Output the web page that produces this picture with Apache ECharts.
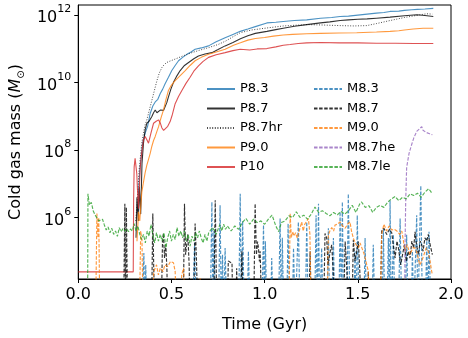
<!DOCTYPE html>
<html>
<head>
<meta charset="utf-8">
<script src="https://cdn.jsdelivr.net/npm/echarts@6/dist/echarts.min.js"></script>
<style>
  html, body { margin: 0; padding: 0; background: #fff; }
  #main { width: 468px; height: 338px; }
</style>
</head>
<body>
<div id="main"></div>
<script>
// values are [time (Gyr), log10 cold gas mass]; 3 = no gas (below the axis)
var p83 = [[0.318,6.2],[0.33,7.4],[0.345,8.2],[0.359,8.5],[0.372,8.7],[0.386,9.08],[0.4,9.3],[0.413,9.42],[0.427,9.5],[0.44,9.67],[0.453,9.8],[0.466,9.96],[0.484,10.15],[0.502,10.35],[0.52,10.5],[0.538,10.64],[0.56,10.74],[0.583,10.83],[0.605,10.9],[0.627,10.98],[0.66,11.02],[0.699,11.08],[0.74,11.2],[0.788,11.32],[0.83,11.42],[0.869,11.51],[0.91,11.58],[0.95,11.65],[1.012,11.76],[1.06,11.78],[1.1,11.8],[1.16,11.83],[1.226,11.85],[1.3,11.9],[1.36,11.92],[1.405,11.95],[1.45,11.96],[1.5,11.99],[1.55,12.02],[1.6,12.05],[1.64,12.07],[1.673,12.1],[1.72,12.11],[1.75,12.13],[1.79,12.15],[1.82,12.16],[1.86,12.17],[1.905,12.19]];

var p87 = [[0.31,5.4],[0.315,6.6],[0.322,5.9],[0.328,6.9],[0.335,6.1],[0.342,7.6],[0.35,8.2],[0.359,8.6],[0.368,8.79],[0.38,8.85],[0.395,8.99],[0.404,9.1],[0.413,9.18],[0.422,9.1],[0.431,9.05],[0.44,9.18],[0.449,9.23],[0.458,9.17],[0.466,9.22],[0.475,9.4],[0.484,9.57],[0.497,9.8],[0.511,10.0],[0.53,10.2],[0.547,10.35],[0.57,10.5],[0.592,10.59],[0.62,10.7],[0.645,10.78],[0.68,10.84],[0.717,10.88],[0.75,10.97],[0.788,11.08],[0.83,11.18],[0.87,11.29],[0.91,11.38],[0.95,11.45],[1.012,11.51],[1.06,11.56],[1.1,11.6],[1.16,11.66],[1.226,11.71],[1.3,11.76],[1.35,11.79],[1.405,11.83],[1.45,11.85],[1.5,11.87],[1.55,11.88],[1.6,11.9],[1.673,11.93],[1.75,11.97],[1.816,12.0],[1.86,11.98],[1.905,11.95]];

var p87hr = [[0.308,5.9],[0.315,6.36],[0.325,7.3],[0.332,7.72],[0.341,8.2],[0.35,8.5],[0.359,8.75],[0.368,8.89],[0.38,9.15],[0.395,9.47],[0.408,9.75],[0.422,10.05],[0.435,10.28],[0.449,10.44],[0.462,10.53],[0.475,10.59],[0.497,10.64],[0.52,10.69],[0.56,10.78],[0.61,10.88],[0.65,10.95],[0.7,11.03],[0.75,11.12],[0.79,11.22],[0.83,11.35],[0.869,11.47],[0.93,11.55],[1.012,11.61],[1.1,11.67],[1.226,11.71],[1.3,11.7],[1.405,11.68],[1.48,11.67],[1.548,11.68],[1.6,11.74],[1.673,11.83],[1.75,11.92],[1.834,12.0],[1.87,12.03],[1.9,12.02]];

var p90 = [[0.315,5.3],[0.32,5.8],[0.323,6.17],[0.33,5.9],[0.335,6.3],[0.341,6.75],[0.35,7.05],[0.359,7.33],[0.368,7.55],[0.377,7.72],[0.386,7.9],[0.395,8.11],[0.404,8.28],[0.413,8.4],[0.422,8.55],[0.431,8.69],[0.444,8.95],[0.457,9.18],[0.47,9.48],[0.484,9.76],[0.5,9.92],[0.52,10.05],[0.547,10.2],[0.574,10.35],[0.6,10.5],[0.627,10.64],[0.66,10.74],[0.699,10.83],[0.74,10.9],[0.788,10.98],[0.833,11.1],[0.87,11.17],[0.91,11.25],[0.95,11.3],[1.0,11.33],[1.047,11.37],[1.1,11.4],[1.15,11.42],[1.226,11.44],[1.3,11.45],[1.4,11.46],[1.494,11.47],[1.6,11.49],[1.673,11.51],[1.72,11.53],[1.75,11.55],[1.797,11.58],[1.85,11.6],[1.905,11.6]];

var p10 = [[0.0,4.39],[0.295,4.39],[0.297,6.5],[0.3,7.5],[0.305,7.75],[0.31,7.7],[0.314,7.3],[0.318,6.8],[0.323,6.26],[0.328,6.9],[0.333,7.5],[0.34,7.9],[0.35,8.3],[0.359,8.4],[0.368,8.3],[0.377,8.2],[0.39,8.5],[0.404,8.79],[0.418,8.85],[0.431,8.89],[0.44,8.8],[0.449,8.65],[0.458,8.58],[0.466,8.6],[0.48,8.7],[0.493,8.84],[0.505,9.05],[0.52,9.37],[0.538,9.58],[0.556,9.76],[0.578,9.97],[0.6,10.15],[0.62,10.33],[0.645,10.49],[0.67,10.62],[0.699,10.74],[0.74,10.82],[0.788,10.88],[0.83,10.94],[0.869,10.98],[0.92,10.96],[0.96,10.99],[1.012,11.0],[1.06,11.05],[1.1,11.1],[1.137,11.12],[1.18,11.15],[1.226,11.17],[1.3,11.18],[1.4,11.17],[1.5,11.17],[1.6,11.16],[1.7,11.16],[1.8,11.15],[1.905,11.15]];

var m83 = [[0.0,3],[0.343,3],[0.352,4.95],[0.358,3],[0.362,4.6],[0.369,3],
  [0.613,3],[0.624,5.25],[0.634,3],
  [0.708,3],[0.717,6.46],[0.723,3],[0.728,5.6],[0.737,3],
  [0.752,3],[0.761,6.36],[0.768,3],[0.774,4.9],[0.78,3],[0.788,5.1],[0.797,3],
  [0.86,3],[0.869,6.7],[0.876,3],[0.882,5.9],[0.891,3],
  [0.905,3],[0.913,5.0],[0.922,3],
  [0.985,3],[0.994,5.78],[1.0,3],[1.004,5.3],[1.012,3],
  [1.031,3],[1.038,4.8],[1.046,3],
  [1.074,3],[1.083,5.97],[1.09,3],[1.095,5.4],[1.103,3],
  [1.118,3],[1.126,5.82],[1.134,3],
  [1.148,3],[1.155,5.1],[1.164,3],[1.173,3],[1.181,5.87],[1.19,3],
  [1.218,3],[1.226,5.87],[1.234,3],
  [1.268,3],[1.276,6.07],[1.283,3],[1.289,6.41],[1.295,3],[1.3,3],[1.306,5.1],[1.314,3],
  [1.334,3],[1.342,5.68],[1.35,3],[1.361,3],[1.369,5.39],[1.377,3],
  [1.398,3],[1.405,6.17],[1.412,3],[1.417,6.46],[1.424,3],[1.441,3],[1.449,6.7],[1.458,3],
  [1.478,3],[1.485,5.0],[1.492,3],[1.497,6.07],[1.507,3],
  [1.532,3],[1.539,5.39],[1.547,3],[1.576,3],[1.583,5.19],[1.592,3],
  [1.63,3],[1.637,5.68],[1.645,3],[1.656,3],[1.664,5.39],[1.67,3],[1.673,6.5],[1.68,3],[1.685,3],[1.691,5.49],[1.699,3],
  [1.718,3],[1.727,5.97],[1.736,3],[1.754,3],[1.762,5.49],[1.77,3],
  [1.786,3],[1.793,5.0],[1.8,3],[1.808,3],[1.816,6.07],[1.822,3],[1.829,3],[1.838,6.94],[1.847,3],
  [1.862,3],[1.87,5.39],[1.876,3],[1.882,5.58],[1.892,3],[1.9,3]];

var m87 = [[0.0,3],[0.243,3],[0.25,6.41],[0.254,3],[0.258,6.3],[0.265,3],
  [0.393,3],[0.4,6.12],[0.405,4.5],[0.412,3],
  [0.445,3],[0.452,5.3],[0.457,5.53],[0.463,4.8],[0.47,5.2],[0.476,4.4],[0.48,3],
  [0.563,3],[0.57,6.41],[0.576,4.9],[0.582,5.2],[0.588,5.5],[0.595,4.6],[0.6,3],
  [0.618,3],[0.627,5.82],[0.634,4.8],[0.642,3],
  [0.726,3],[0.735,6.51],[0.744,3],
  [0.8,3],[0.805,4.71],[0.815,4.75],[0.825,4.65],[0.83,3],[0.845,3],[0.85,4.5],[0.856,3],[0.87,3],[0.878,5.0],[0.886,3],
  [0.941,3],[0.949,6.41],[0.956,4.9],[0.962,5.29],[0.967,5.1],[0.972,4.7],[0.976,5.0],[0.985,3],
  [1.236,3],[1.244,5.0],[1.252,3],
  [1.316,3],[1.324,5.53],[1.333,5.39],[1.34,4.6],[1.352,5.0],[1.36,5.19],[1.368,4.4],[1.375,3],
  [1.423,3],[1.432,5.29],[1.44,4.6],[1.45,3],
  [1.468,3],[1.476,5.34],[1.485,4.71],[1.494,5.0],[1.503,5.29],[1.51,4.5],[1.52,3],
  [1.548,3],[1.556,4.4],[1.564,3],
  [1.62,3],[1.628,5.6],[1.64,5.68],[1.655,5.5],[1.67,5.65],[1.682,5.55],[1.69,5.2],[1.7,4.8],[1.71,5.3],[1.718,5.1],[1.73,4.6],[1.74,4.9],[1.75,5.2],[1.76,4.7],[1.771,5.0],[1.78,4.8],[1.79,5.3],[1.8,5.1],[1.807,5.58],[1.815,5.2],[1.825,4.9],[1.835,5.3],[1.843,5.19],[1.85,5.0],[1.86,5.4],[1.87,5.3],[1.878,5.5],[1.888,5.2],[1.896,5.0],[1.9,4.9]];

var m90 = [[0.0,3],[0.093,3],[0.1,6.12],[0.106,5.4],[0.11,6.0],[0.116,3],
  [0.328,3],[0.335,5.6],[0.342,5.3],[0.348,3],
  [0.395,3],[0.405,4.4],[0.42,4.6],[0.43,4.3],[0.44,4.5],[0.455,4.4],[0.465,4.6],[0.48,4.55],[0.495,4.7],[0.511,4.66],[0.52,4.4],[0.528,3],[0.545,3],[0.555,4.3],[0.565,4.5],[0.575,3],[0.64,3],[0.654,4.2],[0.665,3],
  [1.13,3],[1.137,6.12],[1.143,5.4],[1.15,5.58],[1.158,5.45],[1.166,5.55],[1.175,5.39],[1.183,5.55],[1.192,5.5],[1.199,5.87],[1.207,5.6],[1.215,5.8],[1.225,5.85],[1.235,5.97],[1.243,5.5],[1.25,3],
  [1.335,3],[1.342,5.49],[1.35,5.6],[1.36,5.7],[1.37,5.6],[1.378,5.78],[1.39,5.8],[1.405,5.87],[1.418,5.75],[1.432,5.68],[1.445,5.8],[1.458,5.87],[1.466,5.6],[1.476,5.39],[1.49,5.2],[1.503,5.1],[1.512,5.25],[1.521,5.29],[1.535,4.9],[1.548,4.6],[1.556,4.42],[1.565,3],
  [1.62,3],[1.628,5.5],[1.64,5.8],[1.655,5.6],[1.668,5.75],[1.682,5.63],[1.695,5.65],[1.71,5.6],[1.725,5.5],[1.736,5.6],[1.745,5.3],[1.754,5.0],[1.765,5.2],[1.78,4.9],[1.795,5.1],[1.807,5.1],[1.82,4.9],[1.832,4.6],[1.843,4.71],[1.855,4.9],[1.867,5.1],[1.878,5.0],[1.888,4.7],[1.896,4.42],[1.9,4.3]];

var m87he = [[0.0,3],[1.75,3],[1.753,5.0],[1.757,6.5],[1.762,7.48],[1.775,7.9],[1.789,8.16],[1.8,8.35],[1.816,8.55],[1.83,8.62],[1.843,8.69],[1.85,8.58],[1.858,8.62],[1.866,8.52],[1.875,8.55],[1.885,8.48],[1.9,8.45]];

var m87le = [[0.05,3],[0.052,6.7],[0.06,6.37],[0.07,6.45],[0.08,6.2],[0.09,6.08],[0.1,6.12],[0.11,5.9],[0.12,5.87],[0.13,5.95],[0.14,5.78],[0.15,5.63],[0.16,5.72],[0.17,5.55],[0.18,5.68],[0.19,5.5],[0.2,5.6],[0.21,5.44],[0.22,5.7],[0.23,5.58],[0.24,5.67],[0.25,5.6],[0.26,5.67],[0.27,5.58],[0.28,5.66],[0.29,5.6],[0.3,5.82],[0.31,5.6],[0.32,5.75],[0.33,5.5],[0.34,5.35],[0.35,5.5],[0.36,5.25],[0.37,5.6],[0.38,5.45],[0.39,5.79],[0.4,5.5],[0.41,5.25],[0.42,5.55],[0.43,5.3],[0.44,5.5],[0.45,5.3],[0.46,5.55],[0.47,5.1],[0.48,5.4],[0.49,5.6],[0.5,5.3],[0.51,5.5],[0.52,5.35],[0.53,5.7],[0.54,5.45],[0.55,5.6],[0.56,5.4],[0.57,5.6],[0.58,5.3],[0.59,5.5],[0.6,5.15],[0.61,5.45],[0.62,5.3],[0.63,5.55],[0.64,5.4],[0.65,5.6],[0.66,5.39],[0.67,5.25],[0.68,5.5],[0.69,5.3],[0.7,5.55],[0.71,5.5],[0.72,5.7],[0.73,5.62],[0.74,5.5],[0.75,5.65],[0.76,5.79],[0.77,5.6],[0.78,5.8],[0.79,5.65],[0.8,5.75],[0.82,5.6],[0.84,5.75],[0.86,5.65],[0.88,5.85],[0.9,5.97],[0.92,5.8],[0.94,5.95],[0.96,5.85],[0.98,5.9],[1.0,5.8],[1.02,5.95],[1.04,6.07],[1.06,5.75],[1.075,5.58],[1.09,5.85],[1.11,5.9],[1.13,6.05],[1.15,6.0],[1.17,6.17],[1.19,6.0],[1.21,6.07],[1.23,5.95],[1.25,6.1],[1.27,6.31],[1.29,6.15],[1.31,6.2],[1.33,6.12],[1.35,6.05],[1.37,6.15],[1.39,6.08],[1.41,6.18],[1.43,6.1],[1.45,6.2],[1.47,6.36],[1.49,6.15],[1.51,6.4],[1.52,6.46],[1.54,6.3],[1.56,6.35],[1.58,6.15],[1.6,6.3],[1.62,6.36],[1.64,6.3],[1.66,6.45],[1.68,6.55],[1.7,6.62],[1.72,6.5],[1.74,6.6],[1.76,6.55],[1.78,6.7],[1.8,6.65],[1.82,6.72],[1.84,6.6],[1.86,6.75],[1.88,6.85],[1.89,6.78],[1.9,6.7]];

var yTicks = [6, 8, 10, 12];
var font = 'DejaVu Sans';

function line(name, data, color, width, type, opacity) {
  return {
    name: name,
    type: 'line',
    data: data,
    showSymbol: false,
    symbol: 'none',
    symbolSize: 0,
    clip: true,
    lineStyle: { color: color, width: width, type: type, opacity: opacity },
    itemStyle: { color: color, opacity: opacity }
  };
}

var dash = [3.5, 1.6];

function legendBox(names, left) {
  return {
    data: names,
    orient: 'vertical', left: left, top: 77,
    itemWidth: 28, itemHeight: 14, itemGap: 5.5,
    itemStyle: { opacity: 0, borderWidth: 0 },
    textStyle: { fontSize: 13, color: '#000', fontFamily: font, lineHeight: 14 }
  };
}

var chart = echarts.init(document.getElementById('main'));
var option = {
  animation: false,
  textStyle: { fontFamily: font },
  grid: { left: 78, right: 17, top: 5, bottom: 55, show: true, borderColor: '#000', borderWidth: 1 },
  legend: [
    legendBox(['P8.3', 'P8.7', 'P8.7hr', 'P9.0', 'P10'], 201),
    legendBox(['M8.3', 'M8.7', 'M9.0', 'M8.7he', 'M8.7le'], 308)
  ],
  xAxis: {
    type: 'value', min: 0, max: 2, interval: 0.5,
    name: 'Time (Gyr)', nameLocation: 'middle', nameGap: 38,
    nameTextStyle: { fontSize: 16, color: '#000', fontFamily: font },
    axisLine: { onZero: false, lineStyle: { color: '#000', width: 1 } },
    axisTick: { show: true, length: 4, lineStyle: { color: '#000' } },
    axisLabel: { fontSize: 16, color: '#000', margin: 8, fontFamily: font,
      formatter: function (v) { return v.toFixed(1); } },
    splitLine: { show: false }
  },
  yAxis: {
    type: 'value', min: 4.18, max: 12.29,
    name: '{n|Cold gas mass (}{i|M}{s|⊙}{n|)}', nameLocation: 'middle', nameGap: 48,
    nameTextStyle: {
      color: '#000', fontFamily: font,
      rich: {
        n: { fontSize: 16, fontFamily: font, color: '#000', lineHeight: 20 },
        i: { fontSize: 16, fontFamily: font, color: '#000', fontStyle: 'italic', lineHeight: 20 },
        s: { fontSize: 10, fontFamily: font, color: '#000', verticalAlign: 'bottom', lineHeight: 12 }
      }
    },
    axisLine: { show: true, lineStyle: { color: '#000', width: 1 } },
    axisTick: { show: true, length: 4, customValues: yTicks, lineStyle: { color: '#000' } },
    axisLabel: {
      show: true, customValues: yTicks, margin: 7,
      formatter: function (v) { return '{b|10}{e|' + v + '}'; },
      rich: {
        b: { fontSize: 16, fontFamily: font, color: '#000', lineHeight: 22, verticalAlign: 'bottom' },
        e: { fontSize: 11, fontFamily: font, color: '#000', lineHeight: 12, verticalAlign: 'top' }
      }
    },
    splitLine: { show: false }
  },
  series: [
    line('P8.3', p83, '#1f77b4', 1.1, 'solid', 0.8),
    line('P8.7', p87, '#000000', 1.1, 'solid', 0.8),
    line('P8.7hr', p87hr, '#000000', 1.0, [1, 1.6], 0.7),
    line('P9.0', p90, '#ff7f0e', 1.1, 'solid', 0.8),
    line('P10', p10, '#d62728', 1.1, 'solid', 0.8),
    line('M8.3', m83, '#1f77b4', 1.15, dash, 0.8),
    line('M8.7', m87, '#000000', 1.15, dash, 0.8),
    line('M9.0', m90, '#ff7f0e', 1.15, dash, 0.8),
    line('M8.7he', m87he, '#9467bd', 1.15, dash, 0.8),
    line('M8.7le', m87le, '#2ca02c', 1.15, dash, 0.8)
  ]
};
option && chart.setOption(option);
</script>
</body>
</html>
